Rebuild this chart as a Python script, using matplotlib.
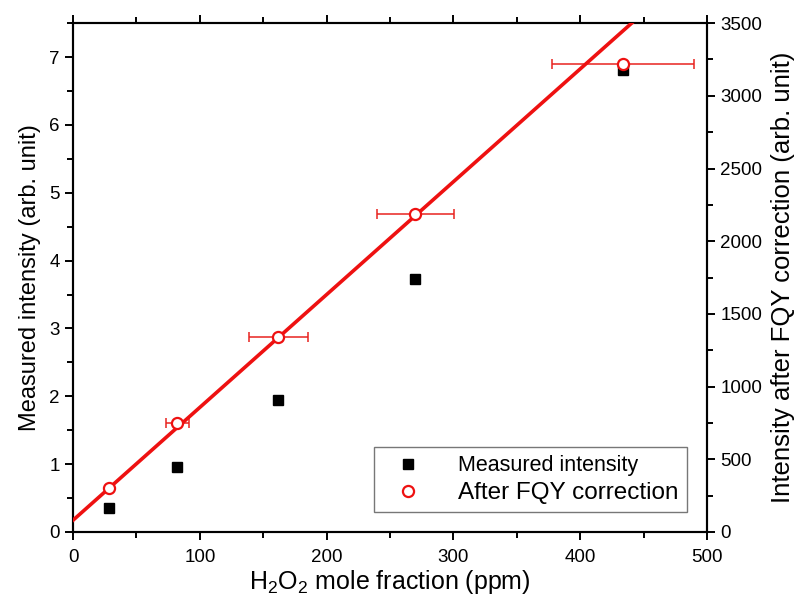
import numpy as np
import matplotlib
matplotlib.use('Agg')
import matplotlib.pyplot as plt
from matplotlib.ticker import MultipleLocator
from matplotlib.lines import Line2D

plt.rcParams['font.family'] = ['Liberation Sans', 'DejaVu Sans']
plt.rcParams['mathtext.default'] = 'regular'

# Дані
x_ppm = [28.5, 82.3, 162.0, 270.0, 433.5]
measured = [0.35, 0.96, 1.94, 3.73, 6.81]
corrected = [300, 748, 1340, 2184, 3220]
x_err = [0, 9, 23, 30.5, 56]

# Лінійна апроксимація (права вісь)
fit_intercept = 81
fit_slope = 7.76

fig = plt.figure(figsize=(8.06, 6.08), dpi=100)
ax = fig.add_axes([0.0906, 0.125, 0.7866, 0.837])
ax2 = ax.twinx()

ax.plot(x_ppm, measured, 's', color='black', markersize=7.5, zorder=3)

ax2.errorbar(x_ppm, corrected, xerr=x_err, fmt='none', ecolor='#e8231f',
             elinewidth=1.1, capsize=3.8, capthick=1.1, zorder=2)
ax2.plot(x_ppm, corrected, 'o', markerfacecolor='white', markeredgecolor='#ee1111',
         markeredgewidth=1.6, markersize=8, zorder=4)
xx = np.array([0, 500])
ax2.plot(xx, fit_intercept + fit_slope * xx, color='#ee1111', linewidth=2.6, zorder=3)

ax.set_xlim(0, 500)
ax.set_ylim(0, 7.5)
ax2.set_ylim(0, 3500)

ax.xaxis.set_major_locator(MultipleLocator(100))
ax.xaxis.set_minor_locator(MultipleLocator(50))
ax.yaxis.set_major_locator(MultipleLocator(1))
ax.yaxis.set_minor_locator(MultipleLocator(0.5))
ax2.yaxis.set_major_locator(MultipleLocator(500))
ax2.yaxis.set_minor_locator(MultipleLocator(250))

for a in (ax, ax2):
    for s in a.spines.values():
        s.set_linewidth(1.5)
    a.tick_params(which='major', direction='out', length=6, width=1.4, labelsize=13.5)
    a.tick_params(which='minor', direction='out', length=4, width=1.4)
ax.tick_params(which='both', top=True)
ax.tick_params(axis='x', pad=6)

ax.set_xlabel('H$_2$O$_2$ mole fraction (ppm)', fontsize=18, labelpad=2)
ax.set_ylabel('Measured intensity (arb. unit)', fontsize=17, labelpad=6)
ax2.set_ylabel('Intensity after FQY correction (arb. unit)', fontsize=18.5,
               rotation=90, labelpad=6)

handles = [
    Line2D([], [], marker='s', color='black', linestyle='none', markersize=7.5),
    Line2D([], [], marker='o', markerfacecolor='white', markeredgecolor='#ee1111',
           markeredgewidth=1.6, linestyle='none', markersize=8),
]
leg = ax2.legend(handles, ['Measured intensity', 'After FQY correction'],
                 loc='lower right', bbox_to_anchor=(0.968, 0.039), borderaxespad=0,
                 fontsize=15.5, fancybox=False, edgecolor='#777777', framealpha=1,
                 handlelength=2.4, handletextpad=1.1, borderpad=0.4,
                 labelspacing=0.25)
leg.get_frame().set_linewidth(1.0)
leg.get_texts()[1].set_fontsize(17.5)

fig.savefig('out.png', dpi=100)
